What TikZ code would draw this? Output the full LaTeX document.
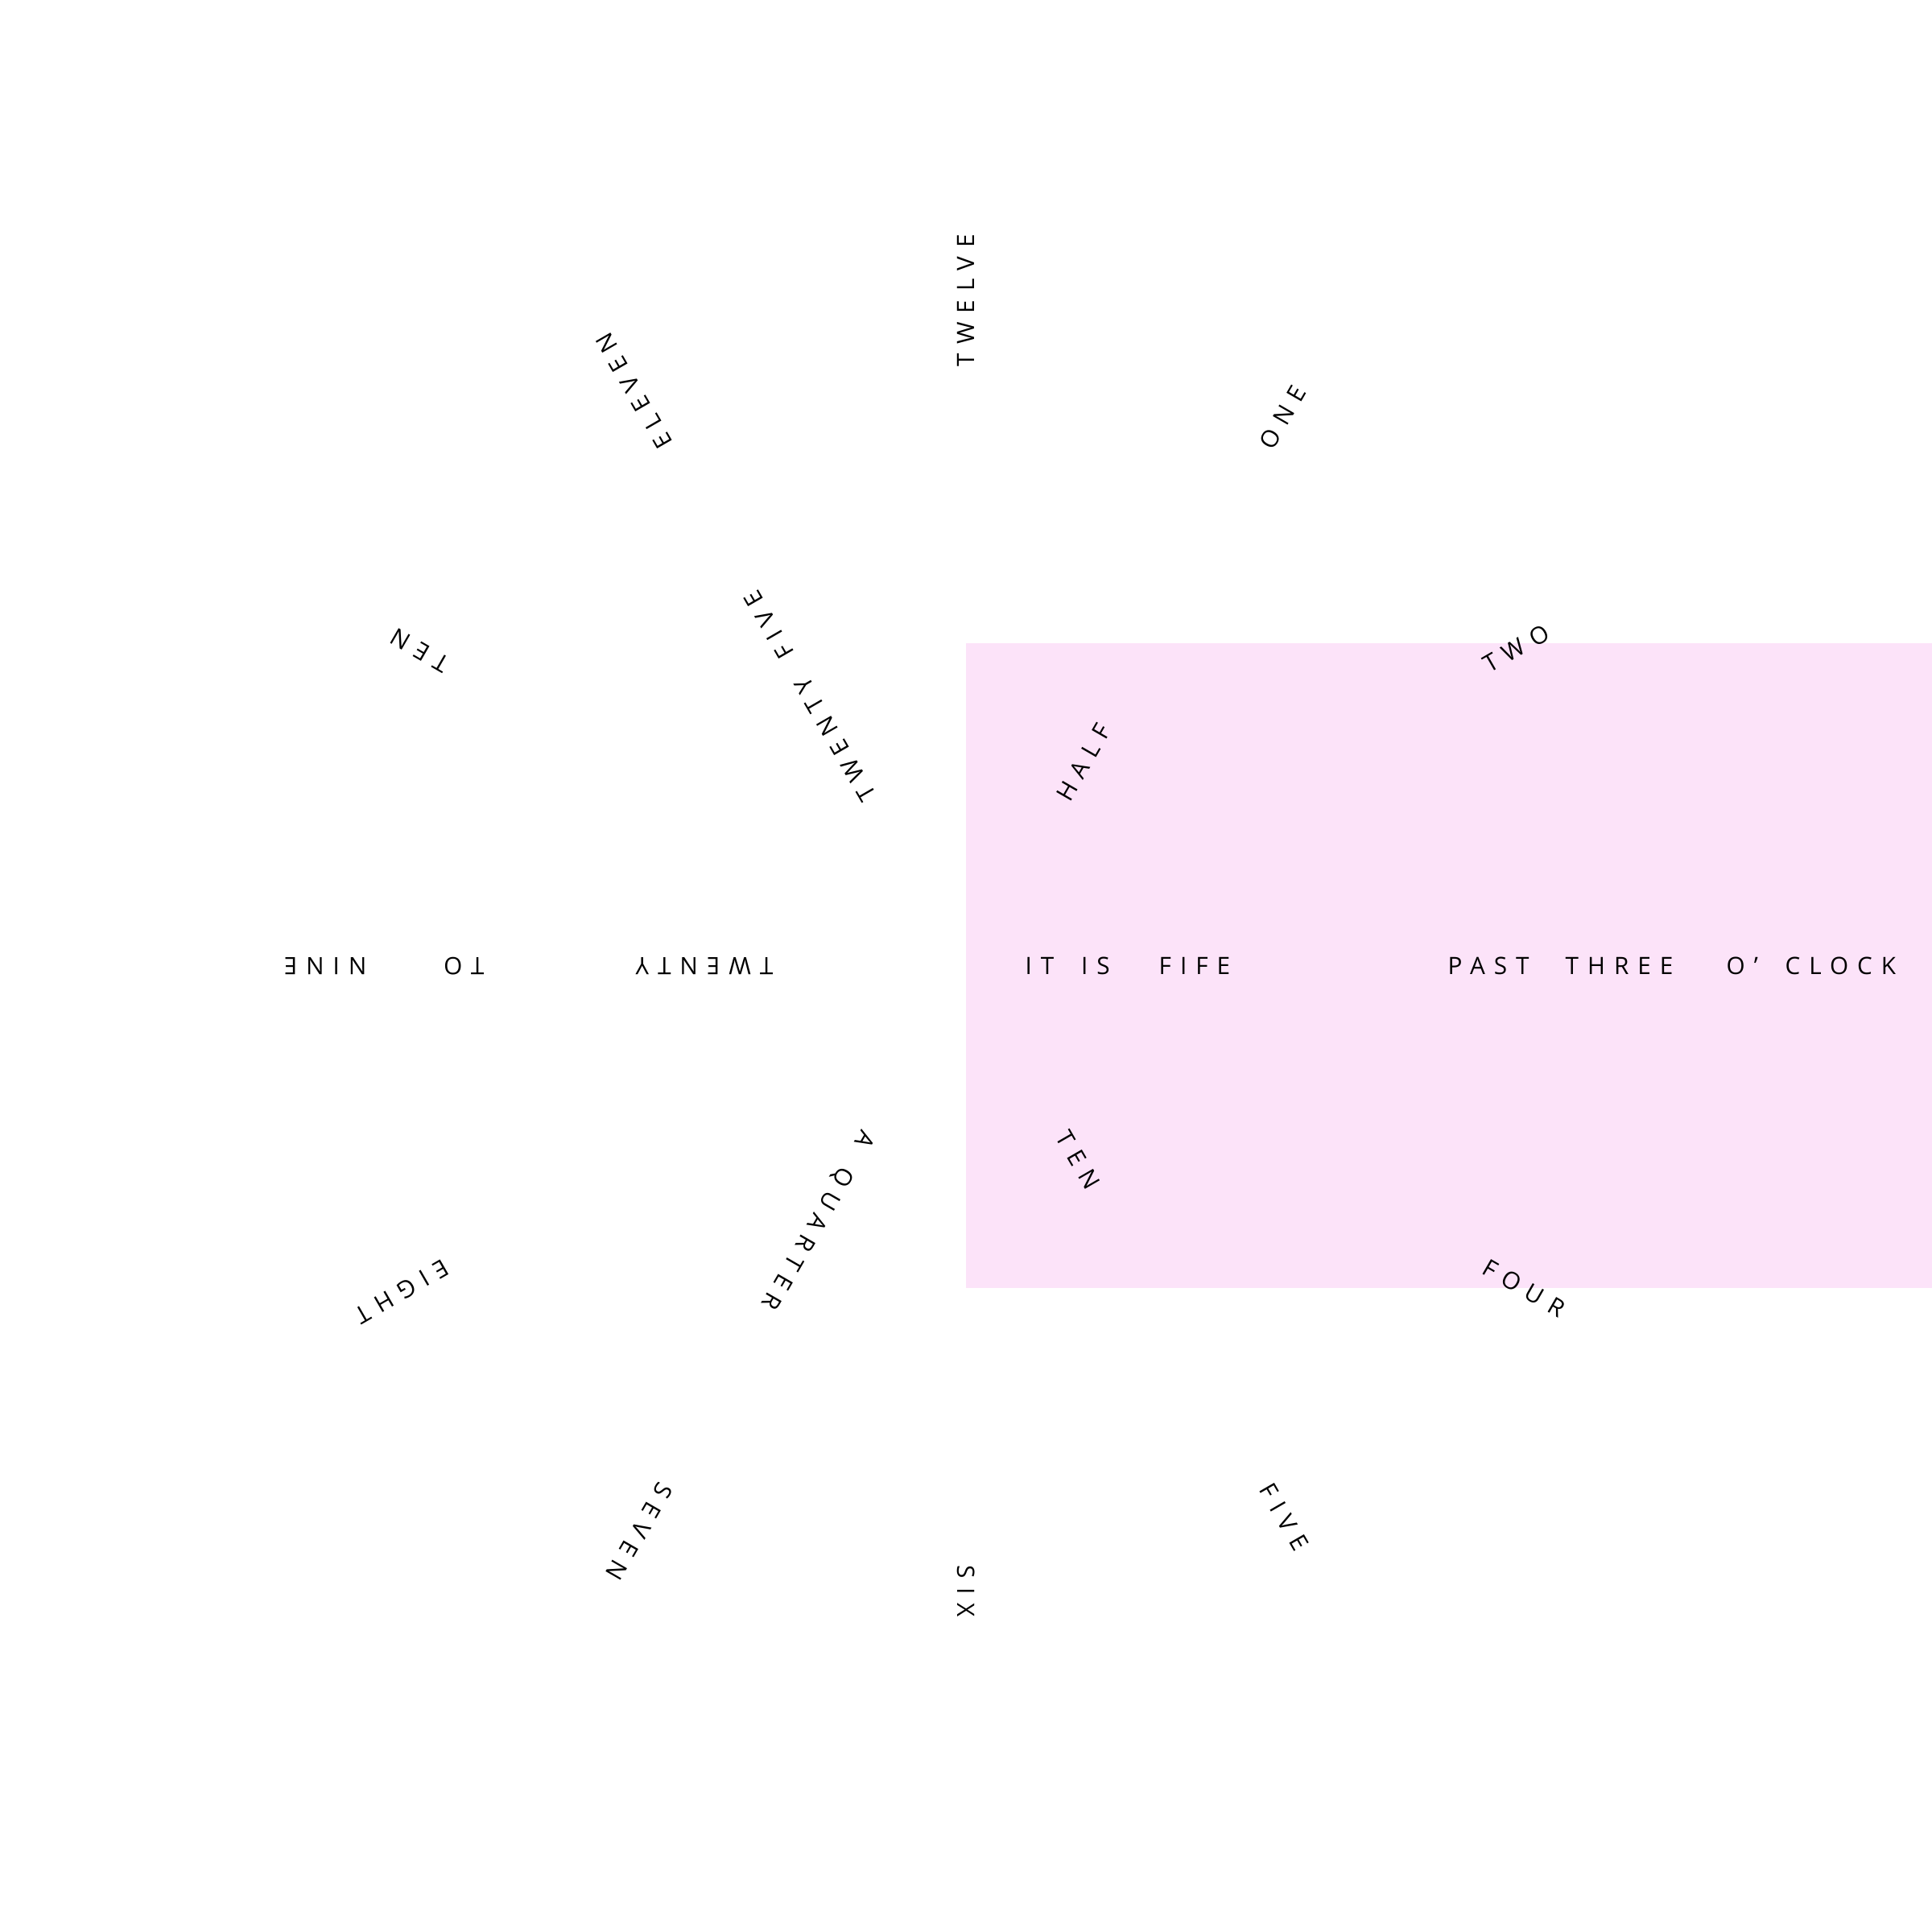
\documentclass[tikz,border=0pt]{standalone}
\usepackage{fontspec}
\newfontfamily\clockfont[LetterSpace=37,WordSpace=1.8]{Open Sans}
\definecolor{clockpink}{RGB}{252,227,249}
\newcommand\clockword[4]{\node[word,rotate=#2] (#1) at (#2:#3) {#4};}
\begin{document}
\begin{tikzpicture}[x=1cm,y=1cm,
  word/.style={font=\clockfont\fontsize{8.45}{10}\selectfont, text=black,
    inner sep=0pt, anchor=west, text height=6.04pt, text depth=0pt}]
\useasboundingbox (-12,-12) rectangle (12,12);
\fill[clockpink] (0,-4.0) rectangle (12,4.01);
% hours
\clockword{hTwelve}{90}{7.44}{TWELVE}
\clockword{hOne}{60}{7.44}{ONE}
\clockword{hTwo}{30}{7.44}{TWO}
\clockword{hThree}{0}{7.44}{THREE}
\clockword{hFour}{-30}{7.44}{FOUR}
\clockword{hFive}{-60}{7.44}{FIVE}
\clockword{hSix}{-90}{7.44}{SIX}
\clockword{hSeven}{-120}{7.44}{SEVEN}
\clockword{hEight}{-150}{7.44}{EIGHT}
\clockword{hNine}{180}{7.44}{NINE}
\clockword{hTen}{150}{7.44}{TEN}
\clockword{hEleven}{120}{7.44}{ELEVEN}
% minutes
\clockword{mFife}{0}{2.39}{FIFE}
\clockword{mHalf}{60}{2.39}{HALF}
\clockword{mTwentyFive}{120}{2.39}{TWENTY FIVE}
\clockword{mTwenty}{180}{2.39}{TWENTY}
\clockword{mQuarter}{-120}{2.39}{A QUARTER}
\clockword{mTen}{-60}{2.39}{TEN}
% connectors
\clockword{itIs}{0}{0.73}{IT IS}
\clockword{past}{0}{5.98}{PAST}
\clockword{to}{180}{5.98}{TO}
\clockword{oclock}{0}{9.44}{O’ CLOCK}
\end{tikzpicture}
\end{document}
